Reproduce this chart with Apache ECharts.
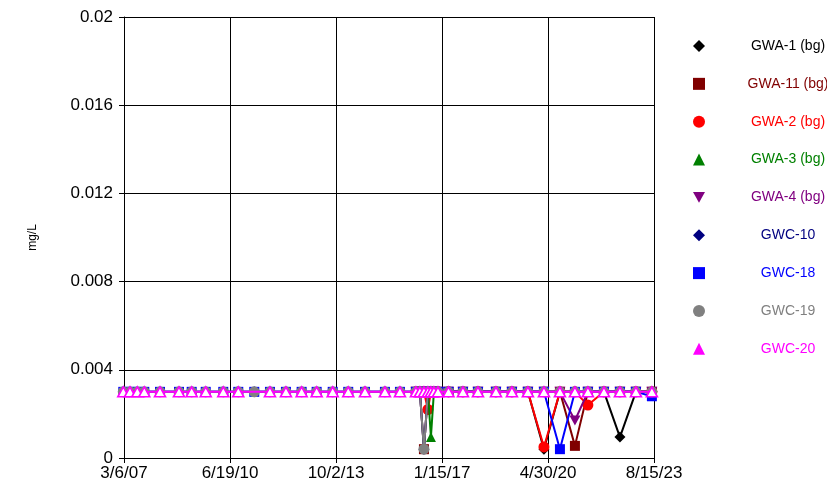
<!DOCTYPE html>
<html><head><meta charset="utf-8">
<script src="https://cdn.jsdelivr.net/npm/echarts@6/dist/echarts.min.js"></script>
<style>html,body{margin:0;padding:0;background:#fff}#c{width:827px;height:491px}</style>
</head><body><div id="c"></div><script>
// sampling dates
const earlyDates = ['2007-02-26','2007-05-13','2007-08-04','2007-10-22','2008-04-17','2008-11-18','2009-04-11','2009-09-17','2010-04-04','2010-09-21','2011-03-21','2011-09-15','2012-03-14','2012-09-08','2013-02-25','2013-08-26','2014-02-18','2014-08-27','2015-04-10','2015-09-27'];
const bgDates = ['2016-03-26','2016-05-10','2016-06-25','2016-08-09','2016-09-12','2016-10-16','2016-12-01','2017-03-30','2017-09-10','2018-02-27','2018-09-19','2019-03-19','2019-09-16','2020-03-16','2020-09-13','2021-03-02','2021-07-27','2022-01-25','2022-07-25','2023-01-22','2023-07-22'];
const gwcDates = earlyDates.concat(bgDates);

// axis settings
const xMinDate = '2007-03-06';
const xMaxDate = '2023-08-15';
const xTickDays = 1201.2;
const yMin = 0, yMax = 0.02, yStep = 0.004;

// series values (mg/L)
const gwa1  = [0.003,0.003,0.003,0.003,0.003,0.003,0.003,0.003,0.003,0.003,0.003,0.003,0.003,0.0004,0.003,0.003,0.003,0.003,0.00095,0.003,0.003];
const gwa11 = [0.003,0.003,0.0004,0.003,0.003,0.003,0.003,0.003,0.003,0.003,0.003,0.003,0.003,0.003,0.003,0.00055,0.003,0.003,0.003,0.003,0.003];
const gwa2  = [0.003,0.003,0.003,0.0022,0.003,0.003,0.003,0.003,0.003,0.003,0.003,0.003,0.003,0.0005,0.003,0.003,0.0024,0.003,0.003,0.003,0.003];
const gwa3  = [0.003,0.003,0.003,0.003,0.00095,0.003,0.003,0.003,0.003,0.003,0.003,0.003,0.003,0.003,0.003,0.003,0.003,0.003,0.003,0.003,0.003];
const gwa4  = [0.003,0.003,0.003,0.003,0.003,0.003,0.003,0.003,0.003,0.003,0.003,0.003,0.003,0.003,0.003,0.0017,0.003,0.003,0.003,0.003,0.003];
const gwc10 = [0.003,0.003,0.003,0.003,0.003,0.003,0.003,0.003,0.003,0.003,0.003,0.003,0.003,0.003,0.003,0.003,0.003,0.003,0.003,0.003,
               0.003,0.003,0.0004,0.003,0.003,0.003,0.003,0.003,0.003,0.003,0.003,0.003,0.003,0.003,0.003,0.003,0.003,0.003,0.003,0.003,0.003];
const gwc18 = [0.003,0.003,0.003,0.003,0.003,0.003,0.003,0.003,0.003,0.003,0.003,0.003,0.003,0.003,0.003,0.003,0.003,0.003,0.003,0.003,
               0.003,0.003,0.003,0.003,0.003,0.003,0.003,0.003,0.003,0.003,0.003,0.003,0.003,0.003,0.0004,0.003,0.003,0.003,0.003,0.003,0.0028];
const gwc19 = [0.003,0.003,0.003,0.003,0.003,0.003,0.003,0.003,0.003,0.003,0.003,0.003,0.003,0.003,0.003,0.003,0.003,0.003,0.003,0.003,
               0.003,0.003,0.0004,0.003,0.003,0.003,0.003,0.003,0.003,0.003,0.003,0.003,0.003,0.003,0.003,0.003,0.003,0.003,0.003,0.003,0.003];
const gwc20 = [0.003,0.003,0.003,0.003,0.003,0.003,0.003,0.003,0.003,0.003,'-',0.003,0.003,0.003,0.003,0.003,0.003,0.003,0.003,0.003,
               0.003,0.003,0.003,0.003,0.003,0.003,0.003,0.003,0.003,0.003,0.003,0.003,0.003,0.003,0.003,0.003,0.003,0.003,0.003,0.003,0.003];

const names = ['GWA-1 (bg)','GWA-11 (bg)','GWA-2 (bg)','GWA-3 (bg)','GWA-4 (bg)','GWC-10','GWC-18','GWC-19','GWC-20'];
const colors = ['#000000','#800000','#FF0000','#008000','#800080','#000080','#0000FF','#808080','#FF00FF'];

const DAY = 86400000;
const ts = s => new Date(s + 'T00:00:00Z').getTime();
const xMin = ts(xMinDate), xMax = ts(xMaxDate);

const invTri = 'path://M0,0L10,0L5,9Z';
const defs = [
  {v: gwa1,  d: bgDates,  sym: 'diamond',  size: 11},
  {v: gwa11, d: bgDates,  sym: 'rect',     size: 10},
  {v: gwa2,  d: bgDates,  sym: 'circle',   size: 11},
  {v: gwa3,  d: bgDates,  sym: 'triangle', size: [10, 10]},
  {v: gwa4,  d: bgDates,  sym: invTri,     size: [11, 10]},
  {v: gwc10, d: gwcDates, sym: 'diamond',  size: 11},
  {v: gwc18, d: gwcDates, sym: 'rect',     size: 10},
  {v: gwc19, d: gwcDates, sym: 'circle',   size: 11},
  {v: gwc20, d: gwcDates, sym: 'triangle', size: [11, 10]}
];

const series = defs.map((s, i) => ({
  name: names[i],
  type: 'line',
  data: s.d.map((dt, j) => [ts(dt), s.v[j]]),
  symbol: s.sym,
  symbolSize: s.size,
  showAllSymbol: true,
  connectNulls: true,
  clip: false,
  itemStyle: i === 8 ? {color: '#FFFFFF', borderColor: colors[i], borderWidth: 1.6} : {color: colors[i], borderWidth: 0},
  lineStyle: {color: colors[i], width: 2},
  emphasis: {disabled: true},
  z: 2 + i
}));

const fmtDate = v => { const d = new Date(v); return (d.getUTCMonth()+1) + '/' + d.getUTCDate() + '/' + String(d.getUTCFullYear()).slice(2); };
const FONT = '"Liberation Sans", Arial, sans-serif';

const chart = echarts.init(document.getElementById('c'), null, {renderer: 'canvas'});
chart.setOption({
  animation: false,
  backgroundColor: '#FFFFFF',
  grid: {left: 124, right: 173, top: 17, bottom: 33, containLabel: false},
  xAxis: {
    type: 'value', min: xMin, max: xMax, interval: xTickDays * DAY,
    axisLine: {show: true, lineStyle: {color: '#000', width: 1}},
    axisTick: {show: true, inside: false, length: 5, lineStyle: {color: '#000'}},
    axisLabel: {formatter: fmtDate, color: '#000', fontSize: 17, fontFamily: FONT, margin: 7, showMinLabel: true, showMaxLabel: true, hideOverlap: false},
    splitLine: {show: true, lineStyle: {color: '#000', width: 1}}
  },
  yAxis: {
    type: 'value', min: yMin, max: yMax, interval: yStep,
    name: 'mg/L', nameLocation: 'middle', nameGap: 85,
    nameTextStyle: {color: '#000', fontSize: 12, fontFamily: FONT},
    axisLine: {show: true, lineStyle: {color: '#000', width: 1}},
    axisTick: {show: true, inside: false, length: 5, lineStyle: {color: '#000'}},
    axisLabel: {color: '#000', fontSize: 17, fontFamily: FONT, margin: 11, formatter: v => String(+v.toFixed(4))},
    splitLine: {show: true, lineStyle: {color: '#000', width: 1}}
  },
  legend: {
    orient: 'vertical', left: 688, top: 34, itemWidth: 12, itemHeight: 12, itemGap: 23.85,
    selectedMode: false,
    formatter: n => '{t|' + n + '}',
    textStyle: {fontSize: 14, fontFamily: FONT, rich: {t: {width: 156, align: 'center', fontSize: 14, fontFamily: FONT}}},
    data: names.map((n, i) => ({
      name: n,
      icon: defs[i].sym === 'rect' ? 'rect' : defs[i].sym,
      itemStyle: {color: colors[i], borderWidth: 0},
      textStyle: {color: colors[i]}
    }))
  },
  series: series
});
</script></body></html>
